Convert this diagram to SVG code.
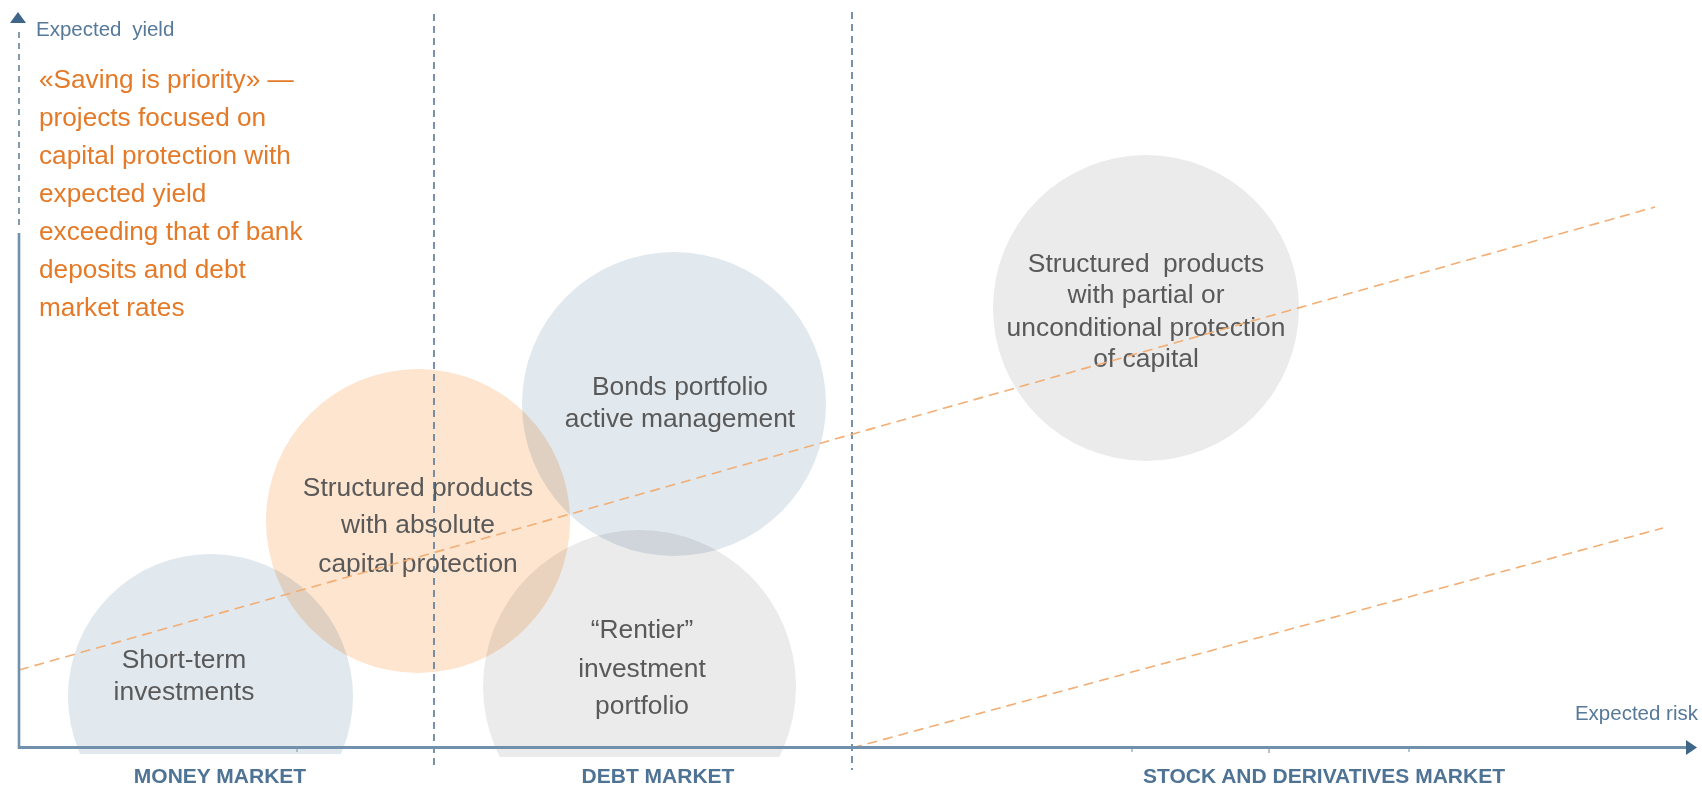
<svg xmlns="http://www.w3.org/2000/svg" width="1702" height="788" viewBox="0 0 1702 788">
<style>
.bub{mix-blend-mode:multiply}
.blue{fill:#E1E8EE}
.orng{fill:#FDE5CF}
.grey{fill:#EBEBEB}
.ct{font-family:"Liberation Sans",Arial,sans-serif;font-size:26.4px;fill:#595959;text-anchor:middle}
.ax{font-family:"Liberation Sans",Arial,sans-serif;font-size:20.5px;fill:#56799A}
.mk{font-family:"Liberation Sans",Arial,sans-serif;font-size:21px;font-weight:bold;fill:#4E7395;text-anchor:middle}
.note{font-family:"Liberation Sans",Arial,sans-serif;font-size:26.2px;fill:#E47A28}
.vd{stroke:#4A6F92;stroke-width:1.5;stroke-dasharray:7 5;fill:none}
.od{stroke:#F2AE74;stroke-width:1.6;stroke-dasharray:10 6;fill:none}
.tk{stroke:#9DB2C5;stroke-width:1.5}
</style>
<defs>
<clipPath id="clipBottom"><rect x="0" y="0" width="1702" height="754"/></clipPath>
<clipPath id="clipBottom2"><rect x="0" y="0" width="1702" height="757"/></clipPath>
</defs>
<rect width="1702" height="788" fill="#FFFFFF"/>

<g id="short-term">
<circle class="bub blue" cx="210.5" cy="696.5" r="142.5" clip-path="url(#clipBottom)"/>
<text class="ct" x="184" y="668">Short-term</text>
<text class="ct" x="184" y="700">investments</text>
</g>

<g id="structured-absolute">
<circle class="bub orng" cx="418" cy="521" r="152"/>
<text class="ct" x="418" y="496">Structured products</text>
<text class="ct" x="418" y="533">with absolute</text>
<text class="ct" x="418" y="572">capital protection</text>
</g>

<g id="bonds">
<circle class="bub blue" cx="674" cy="404" r="152"/>
<text class="ct" x="680" y="395">Bonds portfolio</text>
<text class="ct" x="680" y="427">active management</text>
</g>

<g id="rentier">
<circle class="bub grey" cx="639.5" cy="686.5" r="156.5" clip-path="url(#clipBottom2)"/>
<text class="ct" x="642" y="638">“Rentier”</text>
<text class="ct" x="642" y="677">investment</text>
<text class="ct" x="642" y="714">portfolio</text>
</g>

<g id="structured-partial">
<circle class="bub grey" cx="1146" cy="308" r="153"/>
<text class="ct" x="1146" y="272" word-spacing="6">Structured products</text>
<text class="ct" x="1146" y="303">with partial or</text>
<text class="ct" x="1146" y="336">unconditional protection</text>
<text class="ct" x="1146" y="367">of capital</text>
</g>

<g id="note">
<text class="note" x="39" y="88">«Saving is priority» —</text>
<text class="note" x="39" y="126">projects focused on</text>
<text class="note" x="39" y="164">capital protection with</text>
<text class="note" x="39" y="202">expected yield</text>
<text class="note" x="39" y="240">exceeding that of bank</text>
<text class="note" x="39" y="278">deposits and debt</text>
<text class="note" x="39" y="316">market rates</text>
</g>

<g id="connectors">
<line class="vd" x1="434" y1="14" x2="434" y2="770"/>
<line class="vd" x1="852" y1="12" x2="852" y2="770"/>
<line class="od" x1="19" y1="670" x2="1655" y2="207"/>
<line class="od" x1="852" y1="748" x2="1663" y2="528"/>
</g>

<g id="axes">
<line x1="19" y1="32" x2="19" y2="226" stroke="#5A7B9A" stroke-width="1.5" stroke-dasharray="6 5"/>
<line x1="19" y1="233" x2="19" y2="749" stroke="#7190AB" stroke-width="2.6"/>
<polygon points="18,12 26,23 10,23" fill="#3F6589"/>
<line x1="18" y1="747.5" x2="1687" y2="747.5" stroke="#7190AB" stroke-width="2.8"/>
<polygon points="1697,747.5 1686,740 1686,755" fill="#3F6589"/>
<line class="tk" x1="297" y1="749" x2="297" y2="752"/>
<line class="tk" x1="1132" y1="749" x2="1132" y2="752"/>
<line class="tk" x1="1269" y1="749" x2="1269" y2="753" stroke="#7E97AE"/>
<line class="tk" x1="1409" y1="749" x2="1409" y2="752"/>
<text class="ax" x="36" y="35.5" word-spacing="5">Expected yield</text>
<text class="ax" x="1698" y="720" text-anchor="end">Expected risk</text>
</g>

<g id="market-labels">
<text class="mk" x="220" y="783">MONEY MARKET</text>
<text class="mk" x="658" y="783">DEBT MARKET</text>
<text class="mk" x="1324" y="783">STOCK AND DERIVATIVES MARKET</text>
</g>
</svg>
